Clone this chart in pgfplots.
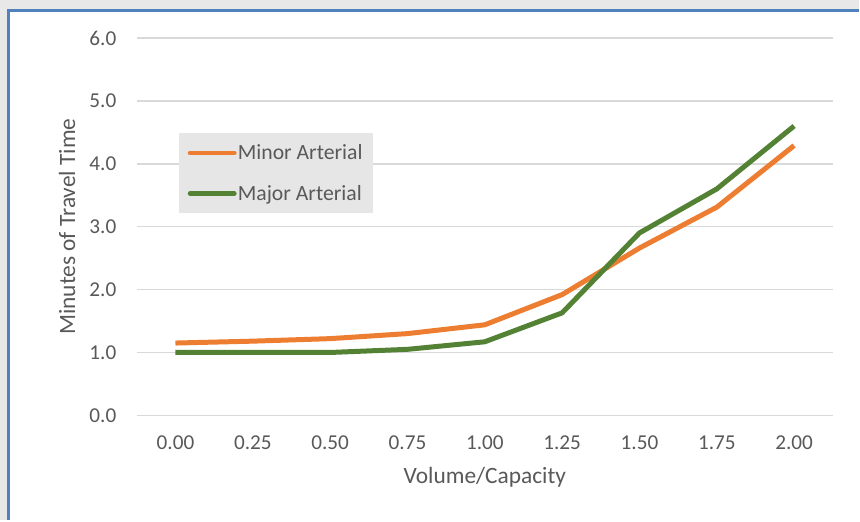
\documentclass[border=0pt]{standalone}
\usepackage{pgfplots}
\pgfplotsset{compat=1.18}
\usepackage{fontspec}
\setmainfont{Carlito}
\definecolor{txt}{HTML}{595959}
\definecolor{gridc}{HTML}{D9D9D9}
\definecolor{orng}{HTML}{ED7D31}
\definecolor{grn}{HTML}{548235}
\definecolor{framec}{HTML}{4F81BD}
\definecolor{legbg}{HTML}{E7E6E6}
\begin{document}
\begin{tikzpicture}[x=1bp,y=1bp]
\fill[white] (0,0) rectangle (860,521);
\fill[black!9] (0,521) rectangle (860,512);
\fill[black!9] (0,0) rectangle (7.5,521);
\draw[framec, line width=2.5bp] (7.5,510.5) -- (860,510.5);
\draw[framec, line width=2.5bp] (8.75,0) -- (8.75,511.5);
\begin{axis}[
  at={(137bp,105bp)}, anchor=south west,
  scale only axis, width=697bp, height=378bp,
  xmin=-0.125, xmax=2.125, ymin=0, ymax=6,
  xtick={0,0.25,0.5,0.75,1,1.25,1.5,1.75,2},
  ytick={0,1,2,3,4,5,6},
  axis line style={draw=none},
  major tick length=0pt,
  ymajorgrids, grid style={gridc, line width=1.5bp},
  tick label style={font=\fontsize{21.3}{25}\selectfont, text=txt},
  /pgf/number format/assume math mode=true,
  xticklabel style={/pgf/number format/.cd, fixed, fixed zerofill, precision=2, /tikz/.cd, yshift=-16.5bp},
  yticklabel style={/pgf/number format/.cd, fixed, fixed zerofill, precision=1, /tikz/.cd, xshift=-17bp},
  xlabel={Volume/Capacity},
  ylabel={Minutes of Travel Time},
  every axis x label/.style={at={(rel axis cs:0.5,-0.164)}, anchor=center, font=\fontsize{23.5}{28}\selectfont, text=txt},
  every axis y label/.style={at={(rel axis cs:-0.10,0.5)}, rotate=90, anchor=center, font=\fontsize{23.5}{28}\selectfont, text=txt},
  legend style={at={(rel axis cs:0.060,0.748)}, anchor=north west, fill=legbg, draw=none,
    font=\fontsize{21.8}{25}\selectfont, text=txt, inner xsep=9bp, inner ysep=9.5bp, row sep=20bp,
    nodes={inner xsep=1.2bp}},
  legend cell align=left,
  legend image code/.code={\draw[#1, line width=5bp, line cap=round] (0bp,0bp) -- (44bp,0bp);},
]
\addplot[orng, line width=5bp, line join=round] coordinates {
 (0,1.15) (0.25,1.18) (0.5,1.22) (0.75,1.30) (1,1.44) (1.25,1.92) (1.5,2.66) (1.75,3.31) (2,4.29)};
\addlegendentry{Minor Arterial}
\addplot[grn, line width=5bp, line join=round] coordinates {
 (0,1.00) (0.25,1.00) (0.5,1.00) (0.75,1.05) (1,1.17) (1.25,1.63) (1.5,2.90) (1.75,3.60) (2,4.60)};
\addlegendentry{Major Arterial}
\end{axis}
\end{tikzpicture}
\end{document}
